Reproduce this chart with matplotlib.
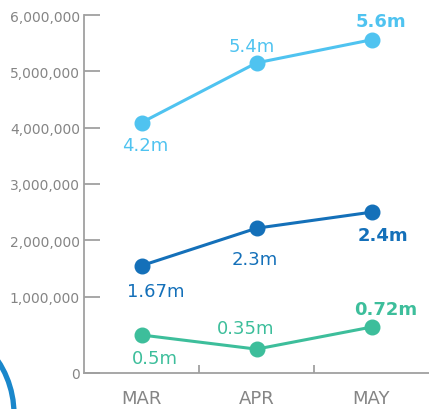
import numpy as np
import matplotlib
matplotlib.use("Agg")
import matplotlib.pyplot as plt
from matplotlib.patches import Ellipse
from matplotlib.ticker import FuncFormatter

# ---- data ----
months = ["MAR", "APR", "MAY"]
series_light = [4.09e6, 5.15e6, 5.56e6]
series_dark = [1.55e6, 2.215e6, 2.50e6]
series_green = [0.496e6, 0.31e6, 0.60e6]
labels_light = ["4.2m", "5.4m", "5.6m"]
labels_dark = ["1.67m", "2.3m", "2.4m"]
labels_green = ["0.5m", "0.35m", "0.72m"]
y_ticks = [0, 1e6, 2e6, 3e6, 4e6, 5e6, 6e6]

# ---- styles ----
c_light = "#4FC3F0"
c_dark = "#1470B9"
c_green = "#3DBE9B"
c_axis = "#A0A0A0"
c_text = "#858585"

off_light = [(4, -22), (-5, 17), (9, 19)]
off_dark = [(14, -25), (-2, -31), (11, -23)]
off_green = [(13, -23), (-11, 21), (14, 18)]

W, H, DPI = 429, 410, 100
fig = plt.figure(figsize=(W / DPI, H / DPI), dpi=DPI)
ax = fig.add_axes([84 / W, (H - 373.7) / H, (W - 84) / W, (373.7 - 16) / H])

# piecewise scale: first million stretched
R = 76.0 / 56.3
def fwd(v):
    v = np.asarray(v, dtype=float) / 1e6
    return np.where(v <= 1, v * R, R + (v - 1))
def inv(t):
    t = np.asarray(t, dtype=float)
    return np.where(t <= R, t / R, 1 + (t - R)) * 1e6
ax.set_yscale("function", functions=(fwd, inv))

x = np.arange(len(months))
for vals, labs, offs, col in [
    (series_light, labels_light, off_light, c_light),
    (series_dark, labels_dark, off_dark, c_dark),
    (series_green, labels_green, off_green, c_green),
]:
    ax.plot(x, vals, color=col, lw=2.2, marker="o", markersize=10.5, zorder=3)
    for i, (v, lab, (dx, dy)) in enumerate(zip(vals, labs, offs)):
        ax.annotate(lab, (x[i], v), xytext=(dx, dy), textcoords="offset pixels",
                    ha="center", va="center", color=col, fontsize=13,
                    fontweight="bold" if i == len(vals) - 1 else "normal",
                    family="DejaVu Sans")

ax.set_xlim(-0.5, 2.5)
ax.set_ylim(0, 6e6)
ax.set_yticks(y_ticks)
ax.yaxis.set_major_formatter(FuncFormatter(lambda v, p: f"{int(round(v)):,}"))
ax.set_xticks(x)
ax.set_xticklabels(months)
ax.set_xticks([0.5, 1.5], minor=True)
ax.yaxis.set_minor_locator(matplotlib.ticker.NullLocator())

for s in ["top", "right"]:
    ax.spines[s].set_visible(False)
for s in ["left", "bottom"]:
    ax.spines[s].set_color(c_axis)
    ax.spines[s].set_linewidth(1.3)

ax.tick_params(axis="y", direction="in", length=11.5, width=1.3, color=c_axis,
               labelcolor=c_text, labelsize=10, pad=3)
ax.tick_params(axis="x", which="major", length=0, labelcolor=c_text,
               labelsize=13, pad=12)
ax.tick_params(axis="x", which="minor", direction="in", length=6, width=1.3,
               color=c_axis)

# decorative arc at lower-left
arc = Ellipse((-82 / W, (H - 415) / H), 192 / W, 192 / H, transform=fig.transFigure,
              fill=False, edgecolor="#1A87CB", lw=3.8, clip_on=False)
fig.add_artist(arc)

fig.savefig("out.png", dpi=DPI)
